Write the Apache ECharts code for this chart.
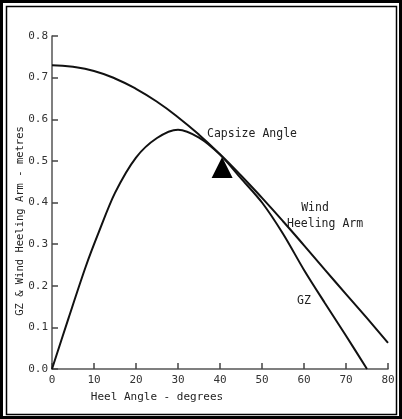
<!DOCTYPE html>
<html>
<head>
<meta charset="utf-8">
<script src="https://cdn.jsdelivr.net/npm/echarts@6/dist/echarts.min.js"></script>
<style>
  html, body { margin: 0; padding: 0; background: #fff; }
  #main { width: 402px; height: 419px; }
</style>
</head>
<body>
<div id="main"></div>
<script>
// heel angle (deg) and lever arms (m)
var heelAngle = [0, 5, 10, 15, 20, 25, 30, 35, 40, 45, 50, 55, 60, 65, 70, 75, 80];
var windArm   = [0.73, 0.726, 0.716, 0.698, 0.673, 0.642, 0.605, 0.563, 0.516, 0.465, 0.411, 0.355, 0.297, 0.238, 0.18, 0.122, 0.063];
var gzAngle   = [0, 4, 8, 11, 15, 20, 25, 30, 35, 40, 45, 50, 55, 60, 65, 70, 75];
var gzArm     = [0, 0.124, 0.245, 0.325, 0.423, 0.508, 0.555, 0.575, 0.556, 0.515, 0.458, 0.4, 0.325, 0.238, 0.158, 0.08, 0];
var capsize   = [40.5, 0.508];
var xTicks = [0, 80, 10];
var yTicks = [0, 0.8, 0.1];

var mono = 'DejaVu Sans Mono';
var ink = '#111';

function pairs(xs, ys) {
  var out = [];
  for (var i = 0; i < xs.length; i++) out.push([xs[i], ys[i]]);
  return out;
}

var myChart = echarts.init(document.getElementById('main'));

var option = {
  backgroundColor: '#fff',
  animation: false,
  grid: { left: 52, top: 36, right: 14, bottom: 50 },
  xAxis: {
    type: 'value',
    min: xTicks[0], max: xTicks[1], interval: xTicks[2],
    splitLine: { show: false },
    axisLine: { lineStyle: { color: '#555', width: 1.5 } },
    axisTick: { inside: true, length: 6, lineStyle: { color: '#444', width: 1.5 } },
    axisLabel: { color: '#333', fontFamily: mono, fontSize: 11, margin: 6 }
  },
  yAxis: {
    type: 'value',
    min: yTicks[0], max: yTicks[1], interval: yTicks[2],
    splitLine: { show: false },
    axisLine: { show: true, lineStyle: { color: '#555', width: 1.5 } },
    axisTick: { show: true, inside: true, length: 6, lineStyle: { color: '#444', width: 1.5 } },
    axisLabel: {
      color: '#333', fontFamily: mono, fontSize: 11, margin: 4,
      formatter: function (v) { return v.toFixed(1); }
    }
  },
  series: [
    {
      name: 'Wind Heeling Arm',
      type: 'line',
      smooth: true,
      symbol: 'none',
      lineStyle: { color: ink, width: 2 },
      data: pairs(heelAngle, windArm)
    },
    {
      name: 'GZ',
      type: 'line',
      smooth: 0.3,
      symbol: 'none',
      lineStyle: { color: ink, width: 2 },
      data: pairs(gzAngle, gzArm)
    },
    {
      name: 'Capsize Angle',
      type: 'scatter',
      symbol: 'triangle',
      symbolSize: [21, 21],
      symbolOffset: [0, 10],
      itemStyle: { color: '#000', opacity: 1 },
      data: [capsize]
    }
  ],
  graphic: [
    { type: 'rect', shape: { x: 1.5, y: 1.5, width: 399, height: 416 }, style: { fill: null, stroke: '#000', lineWidth: 3 } },
    { type: 'rect', shape: { x: 6.5, y: 6.5, width: 390, height: 408 }, style: { fill: null, stroke: '#000', lineWidth: 1.5 } },
    { type: 'text', x: 207, y: 134, style: { text: 'Capsize Angle', font: '11.5px ' + mono, fill: '#222', verticalAlign: 'middle' } },
    { type: 'text', x: 315, y: 208, style: { text: 'Wind', font: '11.5px ' + mono, fill: '#222', align: 'center', verticalAlign: 'middle' } },
    { type: 'text', x: 287, y: 224, style: { text: 'Heeling Arm', font: '11.5px ' + mono, fill: '#222', verticalAlign: 'middle' } },
    { type: 'text', x: 297, y: 301, style: { text: 'GZ', font: '11.5px ' + mono, fill: '#222', verticalAlign: 'middle' } },
    { type: 'text', x: 157, y: 397, style: { text: 'Heel Angle - degrees', font: '11px ' + mono, fill: '#222', align: 'center', verticalAlign: 'middle' } },
    { type: 'text', x: 20, y: 221, rotation: Math.PI / 2, style: { text: 'GZ & Wind Heeling Arm - metres', font: '10.5px ' + mono, fill: '#222', align: 'center', verticalAlign: 'middle' } }
  ]
};

myChart.setOption(option);
</script>
</body>
</html>
